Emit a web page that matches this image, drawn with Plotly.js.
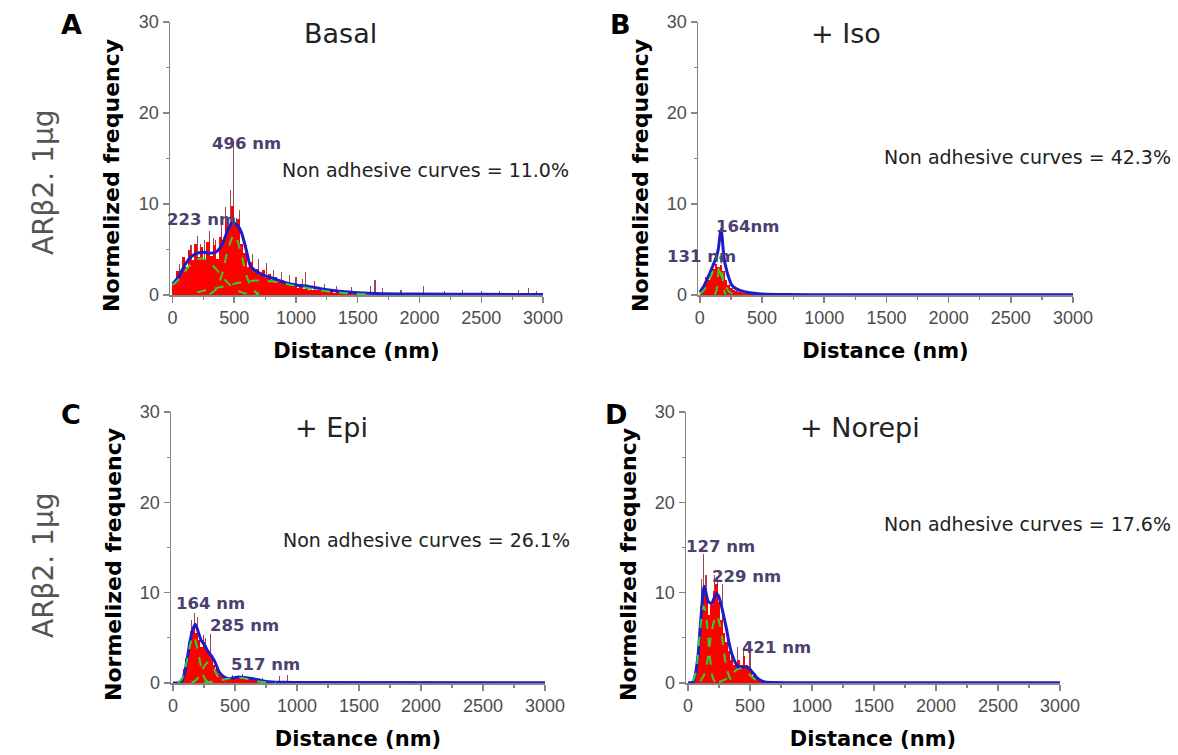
<!DOCTYPE html>
<html><head><meta charset="utf-8">
<script src="https://cdn.plot.ly/plotly-3.0.1.min.js"></script>
<style>html,body{margin:0;padding:0;background:#fff}#chart{width:1178px;height:755px}</style>
</head><body><div id="chart"></div>
<script>
// ---------- DATA ----------
const xTicks = [0,500,1000,1500,2000,2500,3000];
const yTicks = [0,10,20,30];
const panelLetters = ['A','B','C','D'];
const conditions = ['Basal','+ Iso','+ Epi','+ Norepi'];
const nonAdhesive = ['Non adhesive curves = 11.0%','Non adhesive curves = 42.3%','Non adhesive curves = 26.1%','Non adhesive curves = 17.6%'];
const rowLabel = 'ARβ2. 1µg';
const xTitle = 'Distance (nm)';
const yTitle = 'Normelized frequency';

// Panel A (Basal)
const aBinX = [12.5,37.5,62.5,87.5,112.5,137.5,162.5,187.5,212.5,237.5,262.5,287.5,312.5,337.5,362.5,387.5,412.5,437.5,462.5,487.5,512.5,537.5,562.5,587.5,612.5,637.5,662.5,687.5,712.5,737.5,762.5,787.5,812.5,837.5,862.5,887.5,912.5,937.5,962.5,987.5,1012.5,1037.5,1062.5,1087.5,1112.5,1137.5,1162.5,1187.5,1212.5,1237.5,1262.5,1287.5,1312.5,1337.5,1362.5,1387.5,1412.5,1437.5,1462.5,1487.5];
const aFreq = [1.2,2.6,2.4,4.2,3.1,5.0,3.9,5.6,4.2,5.3,3.8,5.8,4.3,5.5,4.0,6.4,6.0,8.2,7.6,9.8,7.8,8.4,5.6,4.6,3.1,3.6,2.6,2.9,2.2,2.7,1.9,2.3,1.6,2.0,1.4,1.7,1.2,1.4,1.0,1.3,0.8,1.0,0.7,0.9,0.6,0.6,0.5,0.5,0.4,0.4,0.3,0.4,0.25,0.3,0.2,0.3,0.2,0.2,0.15,0.2];
const aSpikeX = [60,100,150,200,230,260,300,330,350,400,430,470,496,520,545,600,650,700,760,820,880,950,1000,1050,1080,1150,1230,1330,1450,1600,1640,1700,1850,2030,2200,2350,2500,2650,2800,2880,2950];
const aSpikeY = [3.4,4.2,5.5,6.5,5.6,6.0,7.0,6.3,6.0,8.0,9.7,11.5,16.8,8.5,9.3,5.5,4.5,4.0,3.5,2.8,2.5,2.2,2.0,1.8,2.5,1.5,1.2,1.0,0.9,1.0,1.6,0.8,0.5,1.0,0.4,0.5,0.4,0.4,0.5,0.8,0.4];
const aFitX = [0,50,100,150,200,250,300,350,400,450,480,500,530,560,600,630,680,750,800,900,1000,1100,1200,1300,1400,1500,1700,2000,2500,3000];
const aFitY = [1.2,2.0,3.3,4.2,4.6,4.7,4.6,4.7,5.5,7.2,7.9,7.9,7.6,6.8,4.8,3.2,2.6,2.1,1.9,1.4,1.1,0.95,0.7,0.5,0.35,0.25,0.15,0.1,0.08,0.05];
const aG1X = [0,50,100,150,200,250,300,350,400,450,500,550,600,650,700];
const aG1Y = [1.1,1.7,2.6,3.4,3.9,4.0,3.6,2.9,2.1,1.3,0.7,0.35,0.15,0.05,0];
const aG2X = [300,350,400,450,500,550,600,650,700];
const aG2Y = [0.1,0.6,2.2,5.0,6.6,4.9,2.1,0.6,0.1];
const aG3X = [200,400,600,700,800,1000,1200,1400,1600];
const aG3Y = [0.3,0.9,1.5,1.6,1.5,1.0,0.5,0.2,0.05];
const aPeaks = ['496 nm','223 nm'];

// Panel B (+ Iso)
const bBinX = [10,30,50,70,90,110,130,150,170,190,210,230,250,270,290,310,330,350,370,390,410,430,450,470,490,510,530,550,570,590];
const bFreq = [0.3,1.0,2.0,1.6,2.4,2.9,3.4,3.1,3.3,2.6,1.7,1.1,0.8,0.6,0.4,0.35,0.4,0.25,0.2,0.25,0.15,0.2,0.1,0.15,0.1,0.1,0.05,0.1,0.05,0.05];
const bSpikeX = [50,100,260,300,330];
const bSpikeY = [1.8,2.8,0.8,0.6,0.5];
const bFitX = [0,40,80,110,134,150,164,172,180,195,215,235,255,290,322,400,500,700,1000,3000];
const bFitY = [0.3,1.2,2.4,3.4,4.2,5.2,6.8,7.2,6.2,4.0,2.7,1.8,1.1,0.7,0.5,0.25,0.12,0.05,0.03,0.02];
const bG1X = [0,30,60,90,110,131,150,180,210,240,270,300];
const bG1Y = [0.1,0.5,1.1,2.1,2.7,3.0,2.8,1.9,0.9,0.3,0.1,0];
const bG2X = [120,135,145,155,164,173,183,193,208];
const bG2Y = [0.05,0.6,1.9,3.5,4.2,3.5,1.9,0.6,0.05];
const bPeaks = ['164nm','131 nm'];

// Panel C (+ Epi)
const cBinX = [10,30,50,70,90,110,130,150,170,190,210,230,250,270,290,310,330,350,370,390,410,430,450,470,490,510,530,550,570,590,610,630,650,670,690,710,730,750,770,790,810,830,850,870,890,910,930,950,970,990];
const cFreq = [0,0,0.1,0.4,1.5,2.8,4.5,5.8,6.3,5.5,4.8,4.0,4.5,3.8,3.5,2.8,2.0,1.5,1.0,0.8,0.5,0.4,0.5,0.6,0.5,0.7,0.6,0.5,0.6,0.4,0.5,0.3,0.4,0.2,0.2,0.15,0.1,0.1,0.1,0.05,0.05,0.1,0.05,0.05,0.1,0.05,0,0,0,0];
const cSpikeX = [150,172,195,245,265,305,480,560,720,860,920];
const cSpikeY = [7.0,7.8,7.3,5.3,5.0,5.4,0.9,1.0,0.6,0.8,0.9];
const cFitX = [0,50,75,100,116,140,162,180,200,228,255,282,310,336,360,376,410,443,480,524,580,632,690,740,800,900,1000,3000];
const cFitY = [0,0.05,0.3,1.5,2.8,4.8,6.0,6.5,5.8,4.7,4.2,3.5,3.0,2.4,1.6,1.15,0.7,0.5,0.55,0.66,0.6,0.5,0.35,0.2,0.12,0.08,0.05,0.02];
const cG1X = [40,70,100,130,164,200,230,260,290];
const cG1Y = [0.06,0.4,1.6,3.7,5.2,3.6,1.6,0.4,0.06];
const cG2X = [150,185,220,250,285,320,350,385,420];
const cG2Y = [0.06,0.3,1.0,1.8,2.3,1.8,1.0,0.3,0.06];
const cG3X = [250,300,370,440,517,600,680,760,830];
const cG3Y = [0.03,0.1,0.25,0.47,0.6,0.45,0.2,0.07,0.02];
const cPeaks = ['164 nm','285 nm','517 nm'];

// Panel D (+ Norepi)
const dBinX = [10,30,50,70,90,110,130,150,170,190,210,230,250,270,290,310,330,350,370,390,410,430,450,470,490,510,530,550,570,590,610,630,650,670,690];
const dFreq = [0,0,0.3,1.5,4.0,8.5,10.5,9.5,7.5,8.6,10.2,11.0,9.0,7.0,5.5,4.5,3.5,2.5,2.0,2.2,2.5,2.0,3.0,2.0,1.5,1.2,0.8,0.5,0.3,0.2,0.1,0.1,0.05,0.05,0.05];
const dSpikeX = [110,127,145,215,240,280,350,400,450,500];
const dSpikeY = [11.5,14.3,12.0,12.0,11.8,11.0,3.5,4.0,3.8,3.3];
const dFitX = [0,30,43,60,83,100,110,120,129,140,164,191,210,231,250,272,290,312,330,352,380,406,440,473,500,527,555,580,620,700,1000,3000];
const dFitY = [0,0.05,0.15,1.0,3.3,6.5,8.1,9.8,10.7,10.3,9.0,8.8,9.4,9.9,9.5,8.4,7.3,5.9,4.5,3.3,2.3,1.8,1.75,1.8,1.5,1.07,0.6,0.33,0.12,0.05,0.02,0.02];
const dG1X = [40,60,80,100,127,150,175,200,220];
const dG1Y = [0.2,1.0,3.0,6.1,8.5,6.9,3.1,0.6,0.1];
const dG2X = [100,130,160,190,229,260,290,320,350,380];
const dG2Y = [0.2,0.9,2.7,5.6,7.5,6.3,3.4,1.2,0.3,0.05];
const dG3X = [250,300,350,390,421,460,500,550,600];
const dG3Y = [0.1,0.4,0.9,1.45,1.6,1.35,0.85,0.3,0.06];
const dPeaks = ['127 nm','229 nm','421 nm'];

// ---------- STYLE / LAYOUT ----------
const W = 1178, H = 755;
const RED = '#ff0000', SPIKE = '#8e2436', BLUE = '#1c1cc8', GREEN = '#2fd12f';
const px = v => v / W, py = v => 1 - v / H;

const panels = [
  {bx:aBinX, by:aFreq, bw:25, sx:aSpikeX, sy:aSpikeY, fx:aFitX, fy:aFitY, g:[[aG1X,aG1Y],[aG2X,aG2Y],[aG3X,aG3Y]]},
  {bx:bBinX, by:bFreq, bw:20, sx:bSpikeX, sy:bSpikeY, fx:bFitX, fy:bFitY, g:[[bG1X,bG1Y],[bG2X,bG2Y]]},
  {bx:cBinX, by:cFreq, bw:20, sx:cSpikeX, sy:cSpikeY, fx:cFitX, fy:cFitY, g:[[cG1X,cG1Y],[cG2X,cG2Y],[cG3X,cG3Y]]},
  {bx:dBinX, by:dFreq, bw:20, sx:dSpikeX, sy:dSpikeY, fx:dFitX, fy:dFitY, g:[[dG1X,dG1Y],[dG2X,dG2Y],[dG3X,dG3Y]]}
];

const traces = [];
panels.forEach((p, i) => {
  const xa = i === 0 ? 'x' : 'x' + (i + 1);
  const ya = i === 0 ? 'y' : 'y' + (i + 1);
  traces.push({type:'bar', x:p.sx, y:p.sy, width:9, xaxis:xa, yaxis:ya,
    marker:{color:SPIKE, opacity:0.85, line:{width:0}}, hoverinfo:'skip'});
  traces.push({type:'bar', x:p.bx, y:p.by, width:p.bw, xaxis:xa, yaxis:ya,
    marker:{color:RED, line:{width:0}}, hoverinfo:'skip'});
  traces.push({type:'scatter', mode:'lines', x:p.fx, y:p.fy, xaxis:xa, yaxis:ya,
    line:{color:BLUE, width:3, shape:'spline', smoothing:0.6}, hoverinfo:'skip'});
  p.g.forEach(gc => {
    traces.push({type:'scatter', mode:'lines', x:gc[0], y:gc[1], xaxis:xa, yaxis:ya,
      line:{color:GREEN, width:2, dash:'dash', shape:'spline'}, hoverinfo:'skip'});
  });
});

const axLine = '#858585';
const tickFont = {family:'Liberation Sans, Arial, sans-serif', size:18, color:'#4d4d4d'};
const titleFont = {family:'DejaVu Sans, sans-serif', size:21, color:'#000', weight:'bold'};
function xAxis(dom, anchor, lo) {
  return {domain:dom, anchor:anchor, range:[lo,3000], tickvals:xTicks, ticktext:xTicks.map(String),
    showgrid:false, zeroline:false, showline:true, linecolor:axLine, linewidth:1.5,
    ticks:'outside', ticklen:6, tickwidth:1.5, tickcolor:axLine, tickfont:tickFont,
    minor:{dtick:250, ticks:'outside', ticklen:3, tickcolor:axLine, tickwidth:1.2},
    automargin:false, title:{text:xTitle, font:titleFont, standoff:16}};
}
function yAxis(dom, anchor) {
  return {domain:dom, anchor:anchor, range:[0,30], tickvals:yTicks, ticktext:yTicks.map(String),
    showgrid:false, zeroline:false, showline:true, linecolor:axLine, linewidth:1.5,
    ticks:'outside', ticklen:6, tickwidth:1.5, tickcolor:axLine, tickfont:tickFont,
    minor:{dtick:5, ticks:'outside', ticklen:3, tickcolor:axLine, tickwidth:1.2},
    automargin:false};
}
const topY = [py(295), py(22)], botY = [py(683), py(412)];

const ann = [];
function addText(text, x, y, font, extra) {
  ann.push(Object.assign({text:text, x:px(x), y:py(y), xref:'paper', yref:'paper',
    xanchor:'center', yanchor:'middle', showarrow:false, font:font}, extra || {}));
}
const letterFont = {family:'DejaVu Sans, sans-serif', size:27, color:'#000', weight:'bold'};
const condFont = {family:'DejaVu Sans, sans-serif', size:27, color:'#222'};
const naFont = {family:'DejaVu Sans, sans-serif', size:19, color:'#222'};
const peakFont = {family:'DejaVu Sans, sans-serif', size:16.5, color:'#4b4070', weight:'bold'};
const rowFont = {family:'DejaVu Sans, sans-serif', size:28, color:'#555'};
const yTitleFont = {family:'DejaVu Sans, sans-serif', size:22, color:'#000', weight:'bold'};

[[71,25],[620,24],[71,414],[616,414]].forEach((p,i) => addText(panelLetters[i], p[0], p[1], letterFont));
[[340,33],[846,34],[331,427],[860,427]].forEach((p,i) => addText(conditions[i], p[0], p[1], condFont));
[[425,170],[1027,157],[426,540],[1027,524]].forEach((p,i) => addText(nonAdhesive[i], p[0], p[1], naFont));
[[111,176],[640,176],[113,565],[628,565]].forEach(p => addText(yTitle, p[0], p[1], yTitleFont, {textangle:-90}));
addText(aPeaks[0], 246, 143, peakFont); addText(aPeaks[1], 201, 220, peakFont);
addText(bPeaks[0], 747, 226, peakFont); addText(bPeaks[1], 701, 256, peakFont);
addText(cPeaks[0], 210, 603, peakFont); addText(cPeaks[1], 244, 625, peakFont); addText(cPeaks[2], 265, 664, peakFont);
addText(dPeaks[0], 720, 546, peakFont); addText(dPeaks[1], 746, 576, peakFont); addText(dPeaks[2], 776, 647, peakFont);
addText(rowLabel, 43, 182, rowFont, {textangle:-90});
addText(rowLabel, 43, 565, rowFont, {textangle:-90});

const layout = {
  width:W, height:H, margin:{l:0,r:0,t:0,b:0}, paper_bgcolor:'#fff', plot_bgcolor:'rgba(0,0,0,0)',
  showlegend:false, barmode:'overlay', bargap:0,
  xaxis: xAxis([px(170), px(543)], 'y', -20),
  yaxis: yAxis(topY, 'x'),
  xaxis2: xAxis([px(698), px(1073)], 'y2', -15),
  yaxis2: yAxis(topY, 'x2'),
  xaxis3: xAxis([px(171), px(545)], 'y3', -16),
  yaxis3: yAxis(botY, 'x3'),
  xaxis4: xAxis([px(686), px(1060)], 'y4', -16),
  yaxis4: yAxis(botY, 'x4'),
  annotations: ann
};
Plotly.newPlot('chart', traces, layout, {staticPlot:true, displayModeBar:false});
</script></body></html>
